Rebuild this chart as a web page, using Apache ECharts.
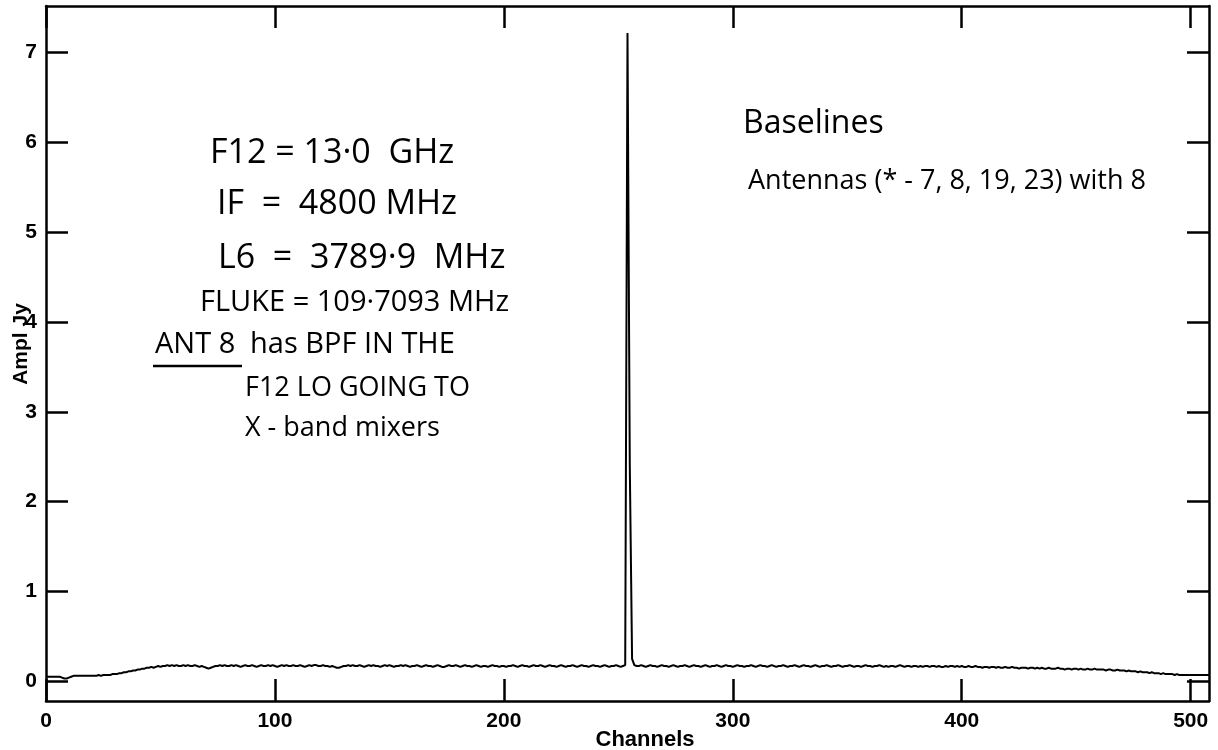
<!DOCTYPE html>
<html>
<head>
<meta charset="utf-8">
<script src="https://cdn.jsdelivr.net/npm/echarts@6/dist/echarts.min.js"></script>
<style>
  html, body { margin: 0; padding: 0; background: #fff; }
  #chart { width: 1218px; height: 750px; }
</style>
</head>
<body>
<div id="chart"></div>
<script>
// Cross-correlation amplitude per spectral channel (channels 0..508)
const amplitude = [
  0.05,0.05,0.05,0.05,0.05,0.05,0.05,0.04,0.03,0.03,0.04,0.05,0.06,0.06,0.06,0.06,0.06,0.06,0.06,0.06,
  0.06,0.06,0.06,0.07,0.06,0.07,0.07,0.07,0.07,0.08,0.08,0.08,0.09,0.09,0.10,0.10,0.11,0.11,0.12,0.12,
  0.13,0.13,0.14,0.14,0.15,0.15,0.16,0.15,0.16,0.17,0.16,0.17,0.17,0.18,0.17,0.18,0.17,0.18,0.17,0.17,
  0.18,0.17,0.18,0.17,0.17,0.18,0.17,0.16,0.17,0.16,0.15,0.14,0.15,0.16,0.17,0.17,0.18,0.17,0.18,0.17,
  0.17,0.18,0.17,0.18,0.17,0.16,0.17,0.18,0.17,0.17,0.18,0.17,0.16,0.17,0.18,0.17,0.17,0.18,0.17,0.18,
  0.17,0.16,0.17,0.18,0.17,0.18,0.17,0.17,0.18,0.17,0.17,0.18,0.17,0.16,0.17,0.18,0.17,0.18,0.18,0.17,
  0.17,0.18,0.17,0.17,0.16,0.17,0.16,0.15,0.15,0.16,0.17,0.17,0.18,0.17,0.18,0.17,0.17,0.18,0.17,0.16,
  0.17,0.18,0.17,0.18,0.17,0.17,0.16,0.17,0.18,0.17,0.18,0.17,0.16,0.17,0.17,0.18,0.17,0.18,0.17,0.16,
  0.17,0.17,0.18,0.17,0.16,0.17,0.18,0.17,0.17,0.16,0.17,0.18,0.17,0.16,0.16,0.17,0.18,0.17,0.17,0.18,
  0.17,0.16,0.17,0.18,0.17,0.17,0.16,0.17,0.18,0.17,0.16,0.17,0.17,0.16,0.17,0.18,0.17,0.17,0.16,0.17,
  0.17,0.16,0.17,0.17,0.18,0.17,0.16,0.17,0.18,0.17,0.17,0.16,0.17,0.18,0.17,0.17,0.18,0.17,0.16,0.17,
  0.18,0.17,0.17,0.16,0.17,0.18,0.17,0.16,0.17,0.17,0.18,0.17,0.16,0.17,0.18,0.17,0.17,0.16,0.17,0.18,
  0.17,0.17,0.16,0.17,0.18,0.17,0.16,0.17,0.17,0.18,0.17,0.16,0.17,0.18,7.22,2.40,0.25,0.18,0.17,0.17,
  0.18,0.17,0.16,0.17,0.18,0.17,0.17,0.16,0.17,0.18,0.17,0.17,0.16,0.17,0.18,0.17,0.16,0.17,0.17,0.18,
  0.17,0.16,0.17,0.18,0.17,0.17,0.16,0.17,0.18,0.17,0.16,0.17,0.17,0.18,0.17,0.16,0.17,0.18,0.17,0.17,
  0.16,0.17,0.18,0.17,0.17,0.16,0.17,0.17,0.18,0.17,0.16,0.17,0.18,0.17,0.17,0.16,0.17,0.18,0.17,0.16,
  0.17,0.17,0.18,0.17,0.16,0.17,0.17,0.18,0.17,0.16,0.17,0.18,0.17,0.17,0.16,0.17,0.18,0.17,0.16,0.17,
  0.17,0.18,0.17,0.16,0.17,0.17,0.18,0.17,0.16,0.17,0.17,0.18,0.17,0.16,0.17,0.17,0.16,0.17,0.18,0.17,
  0.17,0.16,0.17,0.17,0.18,0.17,0.16,0.17,0.16,0.17,0.17,0.16,0.17,0.18,0.17,0.16,0.17,0.17,0.16,0.17,
  0.17,0.16,0.17,0.16,0.17,0.17,0.16,0.17,0.17,0.16,0.17,0.16,0.16,0.17,0.16,0.17,0.17,0.16,0.17,0.16,
  0.17,0.16,0.16,0.17,0.16,0.16,0.17,0.16,0.16,0.15,0.16,0.16,0.15,0.16,0.16,0.15,0.16,0.15,0.15,0.16,
  0.15,0.15,0.16,0.15,0.15,0.14,0.15,0.15,0.15,0.14,0.15,0.15,0.14,0.15,0.14,0.15,0.14,0.14,0.15,0.14,
  0.14,0.14,0.15,0.14,0.14,0.13,0.14,0.14,0.13,0.14,0.14,0.13,0.14,0.13,0.13,0.14,0.13,0.13,0.14,0.13,
  0.13,0.13,0.13,0.12,0.13,0.13,0.12,0.12,0.13,0.12,0.12,0.12,0.11,0.12,0.11,0.11,0.11,0.10,0.11,0.10,
  0.10,0.10,0.09,0.10,0.09,0.09,0.09,0.08,0.09,0.08,0.08,0.08,0.08,0.07,0.08,0.07,0.07,0.07,0.07,0.07,
  0.07,0.07,0.07,0.07,0.07,0.07,0.07,0.07,0.07
];

const xTicks = [0, 100, 200, 300, 400, 500];
const yTicks = [0, 1, 2, 3, 4, 5, 6, 7];
const xName = 'Channels';
const yName = 'Ampl Jy';

// Hand-written notes on the plot
const setupNotes = [
  'F12 = 13\u00b70  GHz',
  'IF  =  4800 MHz',
  'L6  =  3789\u00b79  MHz',
  'FLUKE = 109\u00b77093 MHz'
];
const antNote = ['ANT 8', 'has BPF IN THE', 'F12 LO GOING TO', 'X - band mixers'];
const baselineNote = ['Baselines', 'Antennas (* - 7, 8, 19, 23) with 8'];

const points = amplitude.map((v, ch) => [ch, v]);

const AXIS_COLOR = '#000';
const tickFont = "'Liberation Sans', Arial, sans-serif";
const noteFont = "'Open Sans', 'DejaVu Sans', sans-serif";

function frameAxis(pos, ticks, showLabels) {
  return {
    type: 'value',
    position: pos,
    axisLine: { show: true, onZero: false, lineStyle: { color: AXIS_COLOR, width: 2.5 } },
    axisTick: { show: true, inside: true, length: 22, customValues: ticks,
                lineStyle: { color: AXIS_COLOR, width: 2.5 } },
    axisLabel: { show: showLabels, customValues: ticks, color: '#000', fontFamily: tickFont,
                 fontWeight: 'bold', fontSize: 21, margin: 10 },
    splitLine: { show: false },
    minorTick: { show: false }
  };
}

const xBottom = Object.assign(frameAxis('bottom', xTicks, true), { min: 0, max: 508 });
const xTop = Object.assign(frameAxis('top', xTicks, false), { min: 0, max: 508 });
const yLeft = Object.assign(frameAxis('left', yTicks, true), { min: -0.22, max: 7.52 });
yLeft.axisLabel.margin = 9;
const yRight = Object.assign(frameAxis('right', yTicks, false), { min: -0.22, max: 7.52 });

function note(text, x, y, size) {
  return {
    type: 'text', x: x, y: y, z: 50,
    style: { text: text, fill: '#000', align: 'left', verticalAlign: 'middle',
             font: 'normal ' + size + 'px ' + noteFont }
  };
}

const graphics = [
  note(setupNotes[0], 210, 153, 34),
  note(setupNotes[1], 217, 204, 34),
  note(setupNotes[2], 218, 258, 34),
  note(setupNotes[3], 200, 303, 29),
  note(antNote[0], 155, 345, 29),
  note(antNote[1], 250, 345, 29),
  note(antNote[2], 245, 388, 27),
  note(antNote[3], 245, 428, 27),
  { type: 'line', z: 50, shape: { x1: 153, y1: 366, x2: 242, y2: 366 },
    style: { stroke: '#000', lineWidth: 2.5 } },
  note(baselineNote[0], 743, 124, 32),
  note(baselineNote[1], 748, 181, 27),
  {
    type: 'text', x: 645, y: 740, z: 50,
    style: { text: xName, fill: '#000', align: 'center', verticalAlign: 'middle',
             font: 'bold 22px ' + tickFont }
  },
  {
    type: 'text', x: 21, y: 344, rotation: Math.PI / 2, z: 50,
    style: { text: yName, fill: '#000', align: 'center', verticalAlign: 'middle',
             font: 'bold 21px ' + tickFont }
  }
];

const chart = echarts.init(document.getElementById('chart'), null, { renderer: 'canvas' });
chart.setOption({
  animation: false,
  backgroundColor: '#fff',
  grid: { left: 46, right: 9, top: 6, bottom: 49, containLabel: false },
  xAxis: [xBottom, xTop],
  yAxis: [yLeft, yRight],
  graphic: graphics,
  series: [{
    type: 'line',
    xAxisIndex: 0,
    yAxisIndex: 0,
    data: points,
    showSymbol: false,
    symbol: 'none',
    clip: true,
    lineStyle: { color: '#000', width: 2 },
    z: 3
  }]
});
</script>
</body>
</html>
